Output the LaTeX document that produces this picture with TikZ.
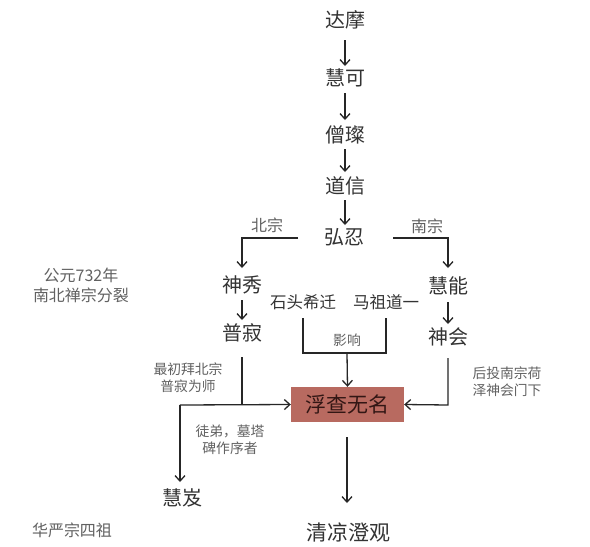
\documentclass[tikz,border=0pt]{standalone}
\usepackage{fontspec}
\setmainfont{Noto Sans CJK SC}
\usetikzlibrary{arrows.meta}
\begin{document}
\begin{tikzpicture}[x=1pt,y=-1pt,
  person/.style={font=\fontsize{20}{22}\selectfont, text=black!80, inner sep=1pt},
  note/.style={font=\fontsize{13.8}{17}\selectfont, text=black!62, align=center, inner sep=1pt},
  bignote/.style={note, font=\fontsize{16}{20}\selectfont},
  conn/.style={draw=black!85, line width=1.3pt},
  arr/.style={conn, -{Straight Barb[length=5.5pt,width=10pt,line width=1.3pt]}}]
\useasboundingbox[fill=white] (0,0) rectangle (590,547);
% main chain
\node[person] (damo) at (345,20) {达摩};
\node[person] (huike) at (345,78) {慧可};
\node[person] (sengcan) at (345,135) {僧璨};
\node[person] (daoxin) at (345,186) {道信};
\node[person] (hongren) at (344,237) {弘忍};
\node[person] (shenxiu) at (242,285) {神秀};
\node[person] (puji) at (242,333) {普寂};
\node[person] (huineng) at (448,286) {慧能};
\node[person] (shenhui) at (448,337) {神会};
\node[person, font=\fontsize{16.5}{18}\selectfont] (shitou) at (303,302) {石头希迁};
\node[person, font=\fontsize{16.5}{18}\selectfont] (mazu) at (386,302) {马祖道一};
\node[draw=none, fill={rgb,255:red,184;green,106;blue,96}, minimum width=113pt, minimum height=35pt,
      font=\fontsize{21}{22}\selectfont, text={rgb,255:red,50;green,22;blue,20}] (fucha) at (347.5,404.5) {浮查无名};
\node[person] (huiji) at (182,498) {慧岌};
\node[person, font=\fontsize{21}{22}\selectfont] (chengguan) at (348,532) {清凉澄观};
% notes
\node[bignote] (beizong) at (267,225) {北宗};
\node[bignote] (nanzong) at (427,226) {南宗};
\node[note] (yingxiang) at (347,340) {影响};
\node[bignote] (split) at (81,285) {公元732年\\南北禅宗分裂};
\node[note] (firstbai) at (188,378) {最初拜北宗\\普寂为师};
\node[note] (tudi) at (230,440) {徒弟，墓塔\\碑作序者};
\node[note] (houtou) at (507,382) {后投南宗荷\\泽神会门下};
\node[bignote] (huayan) at (72,530) {华严宗四祖};
% coordinates
\coordinate (jn) at (347,353);
\coordinate (jl) at (242,405);
\coordinate (jll) at (180,405);
\coordinate (jr) at (448,405);
% chain arrows
\draw[arr] (345,40) -- (345,66);
\draw[arr] (345,93) -- (345,120);
\draw[arr] (345,149) -- (345,172);
\draw[arr] (345,200) -- (345,225);
% branches
\draw[arr] (298,238) -| (242,268);
\draw[arr] (393,238) -| (448,268);
\draw[arr] (242,300) -- (242,320);
\draw[arr] (448,302) -- (448,324);
% influence
\draw[conn] (303,318) |- (jn) -| (386,318);
\draw[arr] (jn) -- (fucha.north);
% puji to fucha
\draw[conn] (242,357) -- (jl);
\draw[arr] (jll) -- (fucha.west);
\draw[arr] (jll) -- (180,482);
% shenhui
\draw[arr] (448,358) -- (jr) -- (fucha.east);
% bottom
\draw[arr] (347,437) -- (347,503);
\end{tikzpicture}
\end{document}
